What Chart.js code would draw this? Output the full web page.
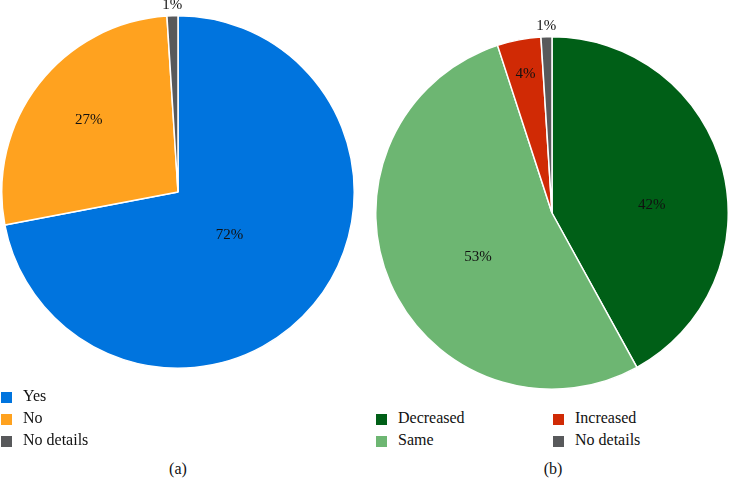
<!DOCTYPE html>
<html>
<head>
<meta charset="utf-8">
<script src="https://cdn.jsdelivr.net/npm/chart.js@4/dist/chart.umd.min.js"></script>
<style>
  body { margin: 0; background: #fff; width: 730px; height: 480px; position: relative; overflow: hidden;
         font-family: "Liberation Serif", "DejaVu Serif", serif; color: #111; }
  canvas { position: absolute; top: 0; }
  .legend { position: absolute; font-size: 16px; }
  .legend .item { position: absolute; white-space: nowrap; height: 22px; line-height: 22px; }
  .legend .box { position: absolute; left: 0; top: 7px; width: 11px; height: 11px; }
  .legend .txt { position: absolute; left: 22px; top: 0; }
  .caption { position: absolute; top: 458px; font-size: 16px; width: 60px; text-align: center; line-height: 22px; }
</style>
</head>
<body>
<canvas id="pieA" style="left:0px"></canvas>
<canvas id="pieB" style="left:375px"></canvas>
<div class="legend" id="legendA" style="left:1px; top:385px"></div>
<div class="legend" id="legendB" style="left:376px; top:407px"></div>
<div class="caption" style="left:148px">(a)</div>
<div class="caption" style="left:523px">(b)</div>
<script>
// Chart (a)
const labelsA = ['Yes', 'No', 'No details'];
const valuesA = [72, 27, 1];
const colorsA = ['#0074de', '#ffa21f', '#58595b'];
const labelPosA = [0.38, 0.65, 1.06];
const labelTurnA = [0, 1, 0];

// Chart (b)
const labelsB = ['Decreased', 'Same', 'Increased', 'No details'];
const valuesB = [42, 53, 4, 1];
const colorsB = ['#005f17', '#6db672', '#d02a05', '#58595b'];
const labelPosB = [0.567, 0.49, 0.80, 1.06];
const labelTurnB = [10, -7.5, 0, 0];
const legendOrderB = ['Decreased', 'Increased', 'Same', 'No details'];

// percent labels drawn on each slice
const pctLabels = {
    id: 'pctLabels',
    afterDatasetsDraw(chart, args, opts) {
        const ctx = chart.ctx;
        const meta = chart.getDatasetMeta(0);
        const data = chart.data.datasets[0].data;
        ctx.save();
        ctx.font = '15px "Liberation Serif", serif';
        ctx.fillStyle = '#111';
        ctx.textAlign = 'center';
        ctx.textBaseline = 'middle';
        meta.data.forEach((arc, i) => {
            const mid = (arc.startAngle + arc.endAngle) / 2 + opts.turn[i] * Math.PI / 180;
            const r = arc.outerRadius * opts.pos[i];
            ctx.fillText(data[i] + '%', arc.x + Math.cos(mid) * r, arc.y + Math.sin(mid) * r);
        });
        ctx.restore();
    }
};

function makePie(id, w, h, pad, labels, values, colors, pos, turn) {
    const el = document.getElementById(id);
    el.width = w; el.height = h;
    el.style.width = w + 'px'; el.style.height = h + 'px';
    return new Chart(el, {
        type: 'pie',
        data: {
            labels: labels,
            datasets: [{
                data: values,
                backgroundColor: colors,
                borderColor: '#ffffff',
                borderWidth: 1.5
            }]
        },
        options: {
            responsive: false,
            animation: false,
            layout: { padding: pad },
            plugins: {
                legend: { display: false },
                tooltip: { enabled: false },
                pctLabels: { pos: pos, turn: turn }
            }
        },
        plugins: [pctLabels]
    });
}

makePie('pieA', 360, 400, { left: 1, right: 5, top: 15, bottom: 31 }, labelsA, valuesA, colorsA, labelPosA, labelTurnA);
makePie('pieB', 355, 400, { left: 0, right: 1, top: 36, bottom: 10 }, labelsB, valuesB, colorsB, labelPosB, labelTurnB);

// legends
function addItem(container, label, color, x, y) {
    const it = document.createElement('div');
    it.className = 'item';
    it.style.left = x + 'px';
    it.style.top = y + 'px';
    it.innerHTML = '<span class="box" style="background:' + color + '"></span><span class="txt">' + label + '</span>';
    container.appendChild(it);
}
const legA = document.getElementById('legendA');
labelsA.forEach((l, i) => addItem(legA, l, colorsA[i], 0, i * 22));
const legB = document.getElementById('legendB');
legendOrderB.forEach((l, i) => {
    const k = labelsB.indexOf(l);
    addItem(legB, l, colorsB[k], (i % 2) * 177, Math.floor(i / 2) * 22);
});
</script>
</body>
</html>
